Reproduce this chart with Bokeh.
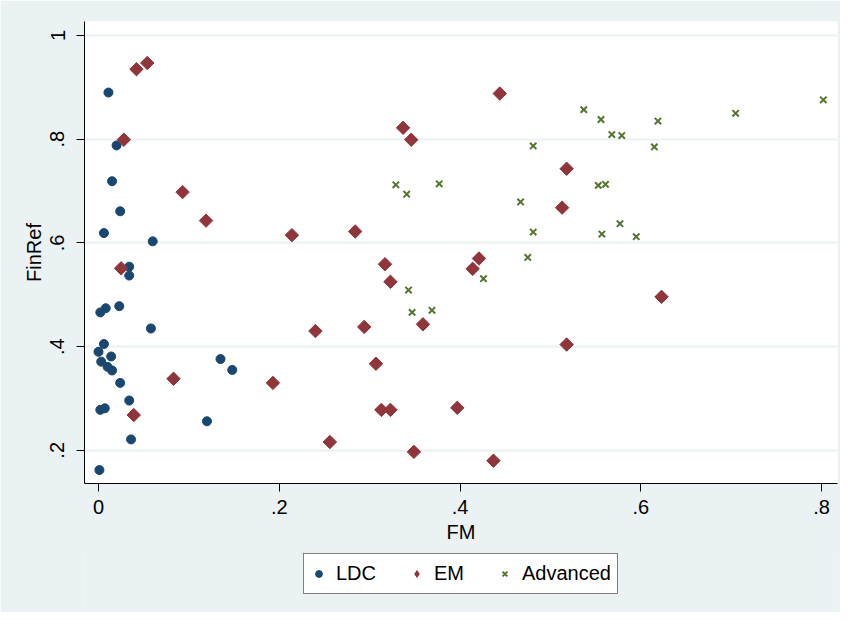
import math
from bokeh.plotting import figure
from bokeh.models import Legend, LegendItem, FixedTicker, Range1d
from bokeh.layouts import column
from bokeh.embed import file_html
from bokeh.resources import INLINE

# ---- data ----
ldc_fm = [0.011, 0.020, 0.015, 0.024, 0.006, 0.060, 0.034, 0.034, 0.002, 0.008,
          0.023, 0.058, 0.006, 0.000, 0.014, 0.003, 0.010, 0.015, 0.024, 0.135,
          0.148, 0.034, 0.002, 0.007, 0.120, 0.036, 0.001]
ldc_finref = [0.890, 0.788, 0.719, 0.661, 0.619, 0.603, 0.554, 0.537, 0.466, 0.474,
              0.478, 0.435, 0.405, 0.390, 0.381, 0.371, 0.361, 0.354, 0.330, 0.376,
              0.355, 0.296, 0.278, 0.281, 0.256, 0.221, 0.162]

em_fm = [0.042, 0.054, 0.028, 0.093, 0.119, 0.025, 0.083, 0.039, 0.444, 0.337,
         0.346, 0.214, 0.284, 0.317, 0.323, 0.421, 0.414, 0.240, 0.294, 0.359,
         0.307, 0.193, 0.313, 0.323, 0.397, 0.256, 0.349, 0.437, 0.518, 0.513,
         0.623, 0.518]
em_finref = [0.935, 0.947, 0.799, 0.698, 0.643, 0.551, 0.338, 0.268, 0.888, 0.822,
             0.799, 0.615, 0.622, 0.559, 0.525, 0.570, 0.550, 0.430, 0.438, 0.443,
             0.367, 0.330, 0.278, 0.278, 0.282, 0.216, 0.197, 0.180, 0.743, 0.668,
             0.496, 0.404]

adv_fm = [0.329, 0.341, 0.377, 0.343, 0.347, 0.369, 0.426, 0.467, 0.475, 0.537,
          0.556, 0.619, 0.705, 0.802, 0.568, 0.579, 0.481, 0.615, 0.553, 0.561,
          0.481, 0.557, 0.577, 0.595]
adv_finref = [0.712, 0.694, 0.714, 0.509, 0.466, 0.470, 0.531, 0.679, 0.572, 0.857,
              0.838, 0.835, 0.850, 0.876, 0.809, 0.807, 0.787, 0.785, 0.711, 0.713,
              0.621, 0.617, 0.637, 0.612]

x_ticks = [0, 0.2, 0.4, 0.6, 0.8]
x_tick_labels = ["0", ".2", ".4", ".6", ".8"]
y_ticks = [0.2, 0.4, 0.6, 0.8, 1.0]
y_tick_labels = [".2", ".4", ".6", ".8", "1"]

series_names = ["LDC", "EM", "Advanced"]
series_colors = ["#1a476f", "#90353b", "#55752f"]
series_x = [ldc_fm, em_fm, adv_fm]
series_y = [ldc_finref, em_finref, adv_finref]

BG = "#EAF2F3"
FONT = "Liberation Sans"
W = 840

# ---------------- main scatter plot ----------------
p = figure(width=W, height=550, output_backend="svg", toolbar_location=None,
           x_range=Range1d(-0.0155, 0.8177), y_range=Range1d(0.136, 1.027),
           min_border_left=84, min_border_right=3, min_border_top=21, min_border_bottom=67)
p.border_fill_color = BG
p.background_fill_color = "white"
p.outline_line_color = None


def add_series(fig, i, for_legend=False, **kw):
    xs, ys = series_x[i], series_y[i]
    if i == 0:
        return fig.scatter(xs, ys, marker="circle", size=9, color=series_colors[0], **kw)
    if i == 1:
        if for_legend:
            return fig.scatter(xs, ys, marker="diamond", size=13,
                               color=series_colors[1], **kw)
        return fig.scatter(xs, ys, marker="square", size=9.5, angle=math.pi / 4,
                           color=series_colors[1], **kw)
    return fig.scatter(xs, ys, marker="x", size=9, line_width=2,
                       color=series_colors[2], **kw)


for i in range(3):
    add_series(p, i)

for ax in (p.xaxis[0], p.yaxis[0]):
    ax.axis_line_color = "black"
    ax.axis_line_width = 1
    ax.major_tick_line_color = "black"
    ax.major_tick_in = 0
    ax.major_tick_out = 8
    ax.minor_tick_line_color = None
    ax.major_label_text_font = FONT
    ax.major_label_text_font_size = "20px"
    ax.major_label_text_color = "black"
    ax.axis_label_text_font = FONT
    ax.axis_label_text_font_size = "20px"
    ax.axis_label_text_font_style = "normal"
    ax.axis_label_text_color = "black"

p.xaxis.ticker = FixedTicker(ticks=x_ticks)
p.xaxis.major_label_overrides = dict(zip(x_ticks, x_tick_labels))
p.yaxis.ticker = FixedTicker(ticks=y_ticks)
p.yaxis.major_label_overrides = dict(zip(y_ticks, y_tick_labels))
p.yaxis.major_label_orientation = "vertical"
p.xaxis.axis_label = "FM"
p.yaxis.axis_label = "FinRef"
p.xaxis.major_label_standoff = 8
p.yaxis.major_label_standoff = 12
p.xaxis.axis_label_standoff = 4
p.yaxis.axis_label_standoff = 3

p.xgrid.grid_line_color = None
p.ygrid.ticker = FixedTicker(ticks=y_ticks)
p.ygrid.grid_line_color = BG
p.ygrid.grid_line_width = 2

# ---------------- legend strip ----------------
lg = figure(width=W, height=64, output_backend="svg", toolbar_location=None,
            x_range=Range1d(0, 1), y_range=Range1d(0, 1),
            min_border_left=0, min_border_right=0, min_border_top=0, min_border_bottom=0)
lg.margin = (-2, 0, 0, 0)
lg.axis.visible = False
lg.grid.visible = False
lg.outline_line_color = None
lg.background_fill_color = BG
lg.border_fill_color = BG

# legend-only renderers (not drawn; they only supply the legend glyphs)
keys = [add_series(lg, i, for_legend=True, visible=False) for i in range(3)]

legend = Legend(items=[LegendItem(label=series_names[i], renderers=[keys[i]])
                       for i in range(3)],
                orientation="horizontal", location=(219, 18))
legend.label_text_font = FONT
legend.label_text_font_size = "20px"
legend.label_text_color = "black"
legend.border_line_color = "black"
legend.border_line_width = 1.5
legend.background_fill_color = "white"
legend.background_fill_alpha = 1
legend.padding = 6
legend.spacing = 32
legend.glyph_width = 17
legend.glyph_height = 27
legend.label_height = 27
legend.label_standoff = 9
legend.margin = 0
legend.click_policy = "none"
lg.add_layout(legend, "center")

layout = column(p, lg, spacing=0)
open("out.html", "w").write(file_html(layout, INLINE))
